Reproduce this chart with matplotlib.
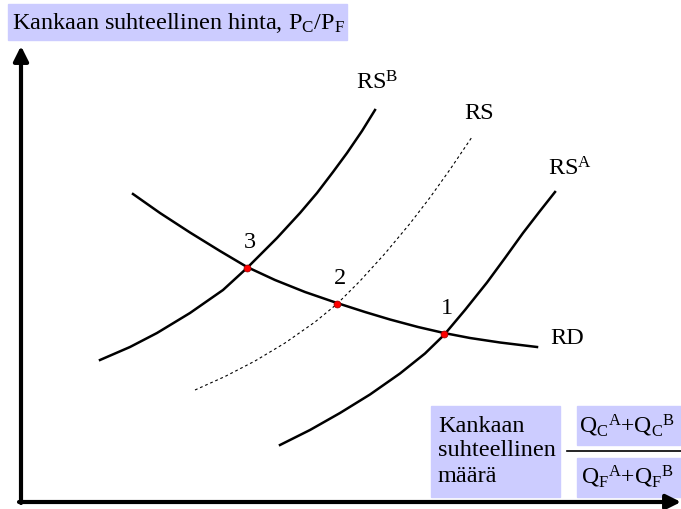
import matplotlib.pyplot as plt
from matplotlib.patches import Rectangle

plt.rcParams['font.family'] = ['Liberation Serif', 'DejaVu Serif']
plt.rcParams['mathtext.fontset'] = 'custom'
plt.rcParams['mathtext.rm'] = 'Liberation Serif'
plt.rcParams['mathtext.it'] = 'Liberation Serif'

# kaaret luettu kuvasta (pikselit, y alaspain)
rsb_x = [100, 130, 157, 190, 223, 247, 277, 300, 317, 333, 347, 362, 375]
rsb_y = [360, 347, 333, 313, 290, 268, 238, 213, 193, 172, 153, 131, 110]
rs_x = [195, 225, 255, 285, 315, 337, 360, 385, 410, 430, 450, 472]
rs_y = [390, 376.5, 361, 343, 322, 304, 281, 253.5, 223.5, 197.5, 169.5, 137]
rsa_x = [280, 310, 340, 370, 400, 425, 444, 465, 487, 505, 523, 540, 555]
rsa_y = [445, 430, 413, 394.5, 373.5, 353.5, 335, 310, 282.5, 258, 233, 211, 192]
rd_x = [133, 160, 190, 220, 247, 275, 305, 337, 365, 390, 418, 444, 470, 500, 537]
rd_y = [194, 213, 232.5, 251, 267, 280, 292, 303, 312, 319.5, 327, 333, 338, 342.5, 347]

# tasapainopisteet
eq_x = [444, 337, 247]
eq_y = [334, 304, 268]
eq_lab = ['1', '2', '3']

fig = plt.figure(figsize=(6.81, 5.09), dpi=100)
ax = fig.add_axes([0, 0, 1, 1])
ax.set_xlim(0, 681)
ax.set_ylim(509, 0)
ax.axis('off')

# akselit
ax.annotate('', xy=(21, 46), xytext=(21, 503),
            arrowprops=dict(arrowstyle='-|>', lw=3, color='black', mutation_scale=22, shrinkA=0, shrinkB=0))
ax.annotate('', xy=(681, 502), xytext=(19, 502),
            arrowprops=dict(arrowstyle='-|>', lw=3, color='black', mutation_scale=22, shrinkA=0, shrinkB=0))

ax.plot(rsb_x, rsb_y, color='black', lw=1.8, solid_joinstyle='round')
ax.plot(rs_x, rs_y, color='black', lw=0.8, ls=(0, (2.5, 2.5)))
ax.plot(rsa_x, rsa_y, color='black', lw=1.8, solid_joinstyle='round')
ax.plot(rd_x, rd_y, color='black', lw=1.8, solid_joinstyle='round')
ax.plot(eq_x, eq_y, 'o', color='red', ms=5, mec='#990000', mew=0.5, zorder=5)

for x, y, s in zip(eq_x, eq_y, eq_lab):
    ax.text(x + 3, y - 26, s, fontsize=17.5, ha='center', va='center')

ax.text(377, 83, r'RS$^{\mathrm{B}}$', fontsize=17.5, ha='center', va='center')
ax.text(479, 113, 'RS', fontsize=17.5, ha='center', va='center')
ax.text(570, 169, r'RS$^{\mathrm{A}}$', fontsize=17.5, ha='center', va='center')
ax.text(567, 338, 'RD', fontsize=17.5, ha='center', va='center')

box = '#ccccff'
ax.add_patch(Rectangle((8, 4), 339, 36, color=box, zorder=0))
ax.text(12, 23, r'Kankaan suhteellinen hinta, P$_{\mathrm{C}}$/P$_{\mathrm{F}}$',
        fontsize=17.5, ha='left', va='center')

ax.add_patch(Rectangle((431, 406), 129, 91, color=box, zorder=0))
ax.text(438, 451, 'Kankaan\nsuhteellinen\nmäärä', fontsize=17.5, ha='left', va='center', linespacing=1.25)

ax.add_patch(Rectangle((577, 406), 104, 39, color=box, zorder=0))
ax.add_patch(Rectangle((577, 458), 104, 39, color=box, zorder=0))
ax.plot([567, 681], [451, 451], color='black', lw=1.2)
ax.text(627, 426, r'Q$_{\mathrm{C}}$$^{\mathrm{A}}$+Q$_{\mathrm{C}}$$^{\mathrm{B}}$', fontsize=17, ha='center', va='center')
ax.text(627, 477, r'Q$_{\mathrm{F}}$$^{\mathrm{A}}$+Q$_{\mathrm{F}}$$^{\mathrm{B}}$', fontsize=17, ha='center', va='center')

fig.savefig('out.png', dpi=100)
